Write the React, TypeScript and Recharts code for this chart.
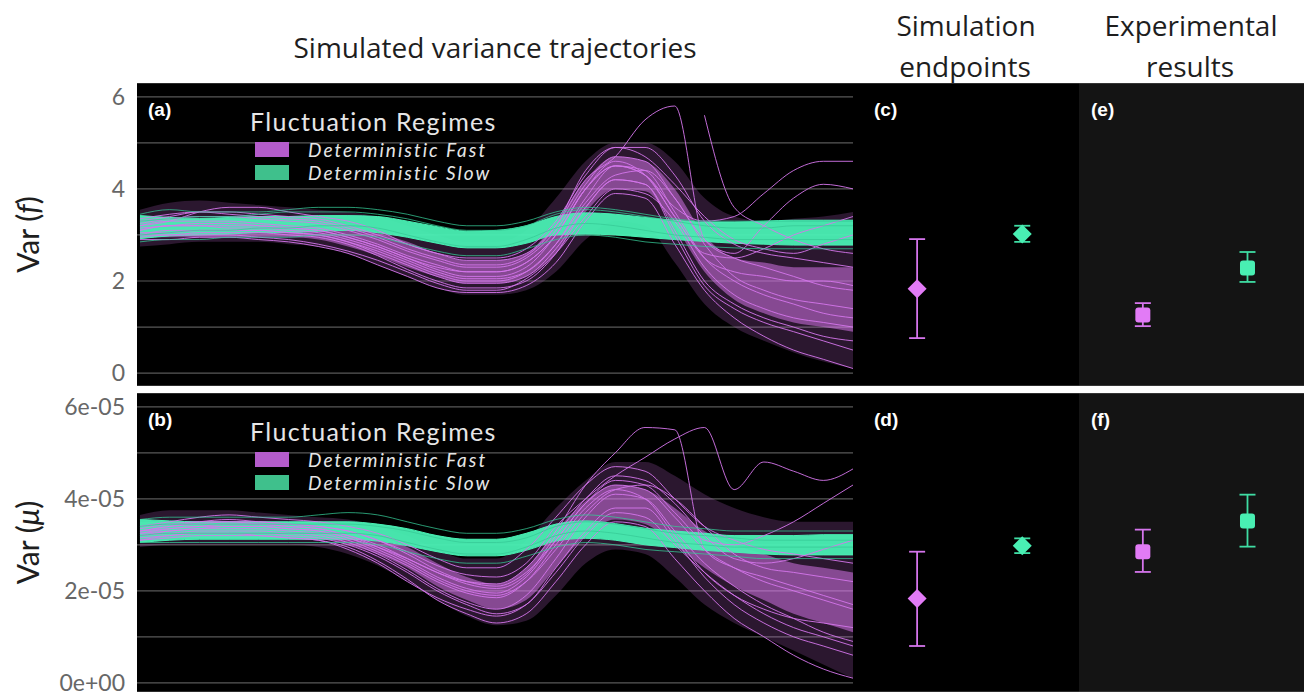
import React from 'react';
import { ComposedChart, Line, Area, Scatter, ErrorBar, XAxis, YAxis, CartesianGrid } from 'recharts';

const FONT = 'Lato, "Open Sans", sans-serif';
const TEXT_FONT = '"Open Sans", Lato, sans-serif';
const FAST = '#d575ec';
const FAST_CORE = '#e27bf6';
const SLOW = '#49efb3';
const GRID = '#585858';

// time steps of the simulated trajectories
const TIME = [0, 1, 2, 3, 4, 5, 6, 7, 8, 9, 10, 11, 12, 13, 14, 15, 16, 17, 18, 19, 20, 21, 22, 23, 24];
const Y_TICKS = [0, 1, 2, 3, 4, 5, 6];

// ---- panel (a): Var(f) ----
const A_SLOW_LO = [2.92, 2.98, 3.0, 3.02, 3.05, 3.05, 3.08, 3.1, 3.05, 2.95, 2.82, 2.72, 2.72, 2.82, 3.0, 3.02, 3.0, 2.95, 2.9, 2.86, 2.82, 2.8, 2.78, 2.78, 2.78];
const A_SLOW_HI = [3.42, 3.38, 3.36, 3.38, 3.4, 3.4, 3.42, 3.42, 3.4, 3.3, 3.18, 3.08, 3.1, 3.2, 3.4, 3.48, 3.45, 3.38, 3.32, 3.28, 3.28, 3.3, 3.32, 3.32, 3.32];
const A_FAST_ENV_LO = [2.75, 2.8, 2.85, 2.85, 2.85, 2.8, 2.75, 2.6, 2.35, 2.1, 1.85, 1.7, 1.7, 1.8, 2.2, 2.9, 3.3, 3.2, 2.4, 1.5, 1.0, 0.7, 0.45, 0.25, 0.1];
const A_FAST_ENV_HI = [3.55, 3.7, 3.75, 3.7, 3.65, 3.6, 3.55, 3.5, 3.4, 3.2, 3.0, 2.85, 2.85, 3.1, 3.8, 4.6, 5.0, 5.0, 4.6, 3.8, 3.4, 3.3, 3.35, 3.4, 3.5];
const A_FAST_CORE_LO = [2.95, 2.95, 2.95, 2.95, 2.95, 2.95, 2.9, 2.75, 2.55, 2.3, 2.1, 1.95, 1.95, 2.1, 2.6, 3.5, 4.0, 3.95, 3.2, 2.2, 1.6, 1.3, 1.1, 1.0, 0.9];
const A_FAST_CORE_HI = [3.35, 3.35, 3.35, 3.35, 3.35, 3.35, 3.3, 3.2, 3.05, 2.85, 2.6, 2.45, 2.45, 2.6, 3.3, 4.2, 4.7, 4.6, 4.0, 3.0, 2.5, 2.4, 2.3, 2.3, 2.3];

const A_FAST_LINES: (number | null)[][] = [
  [3.3, 3.4, 3.5, 3.5, 3.45, 3.4, 3.35, 3.2, 3.0, 2.8, 2.6, 2.5, 2.5, 2.7, 3.3, 4.3, 4.9, 4.9, 4.3, 3.3, 2.8, 2.6, 2.5, 2.4, 2.3],
  [3.1, 3.2, 3.2, 3.15, 3.15, 3.1, 3.05, 2.9, 2.7, 2.45, 2.2, 2.05, 2.05, 2.2, 2.8, 3.8, 4.5, 4.4, 3.5, 2.5, 2.0, 1.7, 1.5, 1.3, 1.2],
  [3.0, 3.0, 3.05, 3.05, 3.05, 3.0, 2.95, 2.8, 2.55, 2.25, 2.0, 1.85, 1.85, 2.0, 2.6, 3.6, 4.2, 4.1, 3.0, 1.9, 1.4, 1.1, 0.9, 0.7, 0.5],
  [3.2, 3.3, 3.3, 3.3, 3.25, 3.2, 3.15, 3.0, 2.8, 2.55, 2.35, 2.2, 2.2, 2.4, 3.0, 4.0, 4.6, 4.3, 3.4, 2.5, 2.2, 2.1, 2.0, 2.0, 1.9],
  [3.2, 3.3, 3.5, 3.6, 3.6, 3.5, 3.4, 3.3, 3.1, 2.8, 2.6, 2.45, 2.45, 2.6, 3.2, 4.2, 4.7, 5.5, 5.8, 2.9, 2.5, 2.3, 2.1, 1.9, 1.8],
  [2.9, 2.9, 2.95, 2.95, 2.9, 2.85, 2.75, 2.6, 2.35, 2.1, 1.85, 1.75, 1.75, 1.9, 2.4, 3.3, 3.9, 3.8, 2.8, 1.8, 1.2, 0.8, 0.5, 0.3, 0.1],
  [3.1, 3.2, 3.2, 3.2, 3.2, 3.15, 3.1, 2.95, 2.75, 2.5, 2.3, 2.2, 2.2, 2.4, 3.0, 4.0, 4.5, 4.3, 3.6, 3.3, 3.4, 3.9, 4.4, 4.6, 4.6],
  [3.0, 3.1, 3.1, 3.1, 3.1, 3.05, 3.0, 2.85, 2.65, 2.4, 2.15, 2.0, 2.0, 2.2, 2.8, 3.7, 4.3, 4.4, 3.8, 2.8, 2.1, 1.8, 1.6, 1.5, 1.4],
  [3.15, 3.2, 3.25, 3.25, 3.2, 3.15, 3.1, 2.95, 2.75, 2.5, 2.25, 2.1, 2.1, 2.3, 3.0, 4.0, 4.5, 4.3, 3.4, 2.6, 2.5, 2.7, 3.0, 3.2, 3.4],
  [3.05, 3.05, 3.1, 3.1, 3.1, 3.05, 3.0, 2.85, 2.6, 2.35, 2.1, 1.95, 1.95, 2.1, 2.7, 3.6, 4.2, 4.1, 3.1, 2.0, 1.5, 1.2, 1.0, 0.8, 0.7],
  [null, null, null, null, null, null, null, null, null, null, null, null, null, null, null, null, null, null, null, 5.6, 3.6, 3.2, 2.9, 2.7, 2.6],
  [3.25, 3.35, 3.4, 3.4, 3.35, 3.3, 3.25, 3.1, 2.9, 2.65, 2.45, 2.3, 2.3, 2.5, 3.1, 4.1, 4.7, 4.6, 3.8, 2.9, 2.6, 3.2, 3.8, 4.1, 4.0],
  [2.95, 3.0, 3.0, 3.0, 2.95, 2.9, 2.8, 2.65, 2.45, 2.2, 1.95, 1.8, 1.8, 2.05, 2.6, 3.4, 4.0, 3.9, 3.3, 2.3, 1.7, 1.4, 1.2, 1.1, 1.0],
  [3.35, 3.45, 3.5, 3.45, 3.4, 3.35, 3.3, 3.15, 2.95, 2.7, 2.5, 2.35, 2.35, 2.55, 3.2, 4.4, 4.9, 4.7, 4.1, 3.4, 2.9, 2.7, 2.6, 2.8, 3.0],
];
const A_SLOW_LINES: (number | null)[][] = [
  [3.45, 3.55, 3.5, 3.5, 3.5, 3.55, 3.6, 3.6, 3.55, 3.45, 3.3, 3.2, 3.2, 3.3, 3.5, 3.6, 3.55, 3.45, 3.35, 3.3, 3.3, 3.3, 3.3, 3.3, 3.3],
  [2.85, 2.9, 2.9, 2.95, 2.95, 2.95, 3.0, 3.0, 2.95, 2.8, 2.65, 2.55, 2.55, 2.7, 2.9, 3.0, 2.95, 2.85, 2.8, 2.75, 2.72, 2.7, 2.7, 2.7, 2.7],
  [3.3, 3.35, 3.4, 3.4, 3.45, 3.5, 3.5, 3.5, 3.45, 3.35, 3.2, 3.1, 3.1, 3.2, 3.45, 3.55, 3.5, 3.4, 3.3, 3.2, 3.15, 3.15, 3.2, 3.2, 3.2],
  [3.0, 3.05, 3.1, 3.1, 3.15, 3.15, 3.2, 3.2, 3.15, 3.0, 2.85, 2.75, 2.75, 2.9, 3.15, 3.25, 3.2, 3.1, 3.0, 2.95, 2.9, 2.9, 2.9, 2.9, 2.9],
];

// ---- panel (b): Var(mu), in units of 1e-05 ----
const B_SLOW_LO = [3.05, 3.1, 3.12, 3.12, 3.12, 3.12, 3.12, 3.12, 3.08, 2.98, 2.85, 2.76, 2.76, 2.88, 3.08, 3.14, 3.1, 3.0, 2.94, 2.88, 2.84, 2.8, 2.78, 2.78, 2.78];
const B_SLOW_HI = [3.55, 3.52, 3.5, 3.5, 3.5, 3.5, 3.5, 3.5, 3.45, 3.35, 3.2, 3.12, 3.12, 3.25, 3.45, 3.52, 3.46, 3.36, 3.3, 3.25, 3.2, 3.2, 3.2, 3.22, 3.22];
const B_FAST_ENV_LO = [2.95, 3.0, 3.0, 3.0, 3.0, 3.0, 2.95, 2.8, 2.55, 2.2, 1.8, 1.45, 1.25, 1.35, 1.9, 2.6, 2.9, 2.8, 2.3, 1.7, 1.3, 1.0, 0.7, 0.4, 0.1];
const B_FAST_ENV_HI = [3.65, 3.75, 3.75, 3.75, 3.7, 3.65, 3.6, 3.55, 3.4, 3.2, 2.9, 2.7, 2.7, 3.1, 3.8, 4.4, 4.8, 4.8, 4.5, 4.1, 3.8, 3.6, 3.5, 3.5, 3.5];
const B_FAST_CORE_LO = [3.15, 3.15, 3.15, 3.15, 3.15, 3.15, 3.15, 3.0, 2.8, 2.5, 2.1, 1.8, 1.6, 1.8, 2.5, 3.2, 3.55, 3.45, 3.0, 2.5, 2.1, 1.8, 1.5, 1.3, 1.1];
const B_FAST_CORE_HI = [3.5, 3.5, 3.5, 3.5, 3.5, 3.5, 3.5, 3.4, 3.2, 2.95, 2.6, 2.3, 2.15, 2.5, 3.3, 3.95, 4.3, 4.2, 3.8, 3.3, 3.0, 2.8, 2.6, 2.5, 2.4];

const B_FAST_LINES: (number | null)[][] = [
  [3.3, 3.4, 3.45, 3.5, 3.5, 3.45, 3.4, 3.3, 3.1, 2.8, 2.45, 2.2, 2.1, 2.4, 3.1, 3.9, 4.3, 4.2, 3.6, 2.9, 2.5, 2.2, 2.0, 1.8, 1.6],
  [3.2, 3.25, 3.3, 3.3, 3.3, 3.25, 3.2, 3.05, 2.8, 2.45, 2.05, 1.75, 1.6, 1.9, 2.7, 3.6, 4.1, 4.0, 3.3, 2.6, 2.1, 1.7, 1.4, 1.1, 0.9],
  [3.4, 3.5, 3.6, 3.65, 3.6, 3.55, 3.5, 3.4, 3.25, 3.0, 2.7, 2.5, 2.5, 2.9, 3.6, 4.3, 4.7, 4.6, 4.0, 3.4, 3.1, 2.9, 2.8, 2.7, 2.6],
  [3.3, 3.4, 3.5, 3.55, 3.5, 3.45, 3.4, 3.3, 3.1, 2.85, 2.55, 2.35, 2.3, 2.6, 3.4, 4.0, 4.5, 4.9, 5.3, 5.55, 4.2, 4.8, 4.6, 4.4, 4.65],
  [3.25, 3.35, 3.4, 3.45, 3.45, 3.4, 3.35, 3.2, 3.0, 2.7, 2.4, 2.2, 2.15, 2.5, 3.3, 4.3, 5.0, 5.55, 5.5, 2.9, 2.5, 2.3, 2.1, 1.9, 1.7],
  [3.1, 3.15, 3.2, 3.2, 3.2, 3.15, 3.1, 2.95, 2.65, 2.25, 1.8, 1.5, 1.3, 1.5, 2.2, 3.0, 3.5, 3.4, 2.7, 2.0, 1.4, 1.0, 0.6, 0.3, 0.1],
  [3.25, 3.3, 3.35, 3.35, 3.35, 3.3, 3.25, 3.1, 2.85, 2.55, 2.2, 1.95, 1.85, 2.2, 3.0, 3.8, 4.2, 4.0, 3.2, 2.4, 1.9, 1.6, 1.4, 1.3, 1.2],
  [3.35, 3.45, 3.5, 3.5, 3.45, 3.4, 3.35, 3.2, 2.95, 2.65, 2.3, 2.05, 1.95, 2.3, 3.1, 3.9, 4.4, 4.3, 3.7, 3.1, 3.0, 3.2, 3.5, 3.9, 4.3],
  [3.15, 3.2, 3.25, 3.25, 3.25, 3.2, 3.15, 3.0, 2.75, 2.4, 2.0, 1.7, 1.5, 1.7, 2.5, 3.3, 3.8, 3.8, 3.1, 2.3, 1.7, 1.3, 1.0, 0.8, 0.6],
  [3.2, 3.3, 3.35, 3.4, 3.4, 3.35, 3.3, 3.15, 2.9, 2.6, 2.25, 2.0, 1.9, 2.2, 2.9, 3.7, 4.2, 4.3, 4.0, 3.4, 2.8, 2.5, 2.4, 2.3, 2.2],
  [3.1, 3.2, 3.25, 3.25, 3.2, 3.15, 3.1, 2.9, 2.6, 2.2, 1.85, 1.6, 1.45, 1.7, 2.4, 3.2, 3.7, 3.6, 3.0, 2.4, 1.9, 1.5, 1.2, 1.0, 0.8],
  [3.3, 3.35, 3.4, 3.4, 3.4, 3.35, 3.3, 3.15, 2.95, 2.7, 2.4, 2.15, 2.05, 2.35, 3.2, 4.0, 4.5, 4.4, 3.9, 3.2, 2.7, 2.6, 2.7, 2.9, 3.1],
];
const B_SLOW_LINES: (number | null)[][] = [
  [3.55, 3.6, 3.6, 3.6, 3.6, 3.6, 3.65, 3.7, 3.65, 3.5, 3.35, 3.25, 3.25, 3.35, 3.55, 3.65, 3.6, 3.5, 3.4, 3.35, 3.3, 3.3, 3.3, 3.3, 3.3],
  [3.05, 3.05, 3.05, 3.05, 3.05, 3.05, 3.05, 3.05, 3.0, 2.85, 2.7, 2.6, 2.6, 2.75, 2.95, 3.05, 3.0, 2.9, 2.85, 2.8, 2.75, 2.7, 2.7, 2.7, 2.7],
  [3.4, 3.45, 3.45, 3.45, 3.45, 3.45, 3.45, 3.45, 3.4, 3.3, 3.15, 3.05, 3.05, 3.15, 3.4, 3.5, 3.45, 3.35, 3.25, 3.2, 3.15, 3.1, 3.1, 3.1, 3.1],
  [3.2, 3.25, 3.25, 3.25, 3.25, 3.25, 3.25, 3.25, 3.2, 3.05, 2.9, 2.8, 2.8, 2.95, 3.2, 3.3, 3.25, 3.15, 3.05, 3.0, 2.95, 2.95, 2.95, 2.95, 2.95],
];

// ---- endpoint panels: value and [lower, upper] error ----
const C_FAST = [{ x: 1, y: 1.83, err: [1.07, 1.08] }];
const C_SLOW = [{ x: 2, y: 3.02, err: [0.17, 0.18] }];
const E_FAST = [{ x: 1, y: 1.26, err: [0.24, 0.26] }];
const E_SLOW = [{ x: 2, y: 2.28, err: [0.3, 0.35] }];
const D_FAST = [{ x: 1, y: 1.83, err: [1.03, 1.02] }];
const D_SLOW = [{ x: 2, y: 2.98, err: [0.16, 0.16] }];
const F_FAST = [{ x: 1, y: 2.85, err: [0.44, 0.48] }];
const F_SLOW = [{ x: 2, y: 3.52, err: [0.56, 0.57] }];

const LEGEND = [
  { label: 'Deterministic Fast', color: '#b45ccb' },
  { label: 'Deterministic Slow', color: '#3fc08c' },
];

function buildRows(
  fastEnv: [number[], number[]],
  fastCore: [number[], number[]],
  slow: [number[], number[]],
  fastLines: (number | null)[][],
  slowLines: (number | null)[][],
) {
  return TIME.map((t, i) => {
    const row: Record<string, any> = {
      t,
      fastEnv: [fastEnv[0][i], fastEnv[1][i]],
      fastCore: [fastCore[0][i], fastCore[1][i]],
      slowCore: [slow[0][i], slow[1][i]],
    };
    fastLines.forEach((l, k) => (row['f' + k] = l[i]));
    slowLines.forEach((l, k) => (row['s' + k] = l[i]));
    return row;
  });
}

const ROWS_A = buildRows([A_FAST_ENV_LO, A_FAST_ENV_HI], [A_FAST_CORE_LO, A_FAST_CORE_HI], [A_SLOW_LO, A_SLOW_HI], A_FAST_LINES, A_SLOW_LINES);
const ROWS_B = buildRows([B_FAST_ENV_LO, B_FAST_ENV_HI], [B_FAST_CORE_LO, B_FAST_CORE_HI], [B_SLOW_LO, B_SLOW_HI], B_FAST_LINES, B_SLOW_LINES);

const fmtA = (v: number) => (v % 2 === 0 ? String(v) : '');
const fmtB = (v: number) => (v % 2 === 0 ? (v === 0 ? '0e+00' : `${v}e-05`) : '');

function AxisTitle(props: any) {
  const { viewBox, sym } = props;
  const cx = 27;
  const cy = viewBox.y + viewBox.height / 2;
  return (
    <text x={cx} y={cy} transform={`rotate(-90 ${cx} ${cy})`} textAnchor="middle" dominantBaseline="central"
      fontFamily={FONT} fontSize={30} fill="#1e1e1e">
      Var (<tspan fontStyle="italic">{sym}</tspan>)
    </text>
  );
}

function TrajectoryPanel(props: { rows: any[]; nFast: number; nSlow: number; height: number; domain: [number, number]; fmt: (v: number) => string; sym: string }) {
  return (
    <ComposedChart width={853} height={props.height} data={props.rows} margin={{ top: 0, right: 0, bottom: 0, left: 0 }}>
      <CartesianGrid vertical={false} stroke={GRID} strokeWidth={1.2} fill="#000" />
      <XAxis dataKey="t" type="number" domain={[-0.1, 24]} hide />
      <YAxis type="number" domain={props.domain} allowDataOverflow ticks={Y_TICKS} tickFormatter={props.fmt} width={137}
        axisLine={false} tickLine={false} tickSize={0} tickMargin={12} interval={0}
        tick={{ fill: '#676767', fontSize: 23, fontFamily: FONT }}
        label={<AxisTitle sym={props.sym} />} />
      <Area dataKey="fastEnv" type="monotone" stroke="none" fill={FAST} fillOpacity={0.2} isAnimationActive={false} />
      <Area dataKey="fastCore" type="monotone" stroke="none" fill={FAST_CORE} fillOpacity={0.5} isAnimationActive={false} />
      {Array.from({ length: props.nFast }, (_, k) => (
        <Line key={'f' + k} dataKey={'f' + k} type="monotone" stroke={FAST} strokeOpacity={0.9} strokeWidth={1} dot={false} isAnimationActive={false} />
      ))}
      {Array.from({ length: props.nSlow }, (_, k) => (
        <Line key={'s' + k} dataKey={'s' + k} type="monotone" stroke="#36c995" strokeOpacity={0.75} strokeWidth={1} dot={false} isAnimationActive={false} />
      ))}
      <Area dataKey="slowCore" type="monotone" stroke={SLOW} strokeWidth={1} fill={SLOW} fillOpacity={0.95} isAnimationActive={false} />
    </ComposedChart>
  );
}

const Diamond = (color: string) => (p: any) => (
  <path d={`M${p.cx},${p.cy - 9.5} L${p.cx + 9.5},${p.cy} L${p.cx},${p.cy + 9.5} L${p.cx - 9.5},${p.cy} Z`} fill={color} />
);
const Square = (color: string) => (p: any) => (
  <rect x={p.cx - 7.5} y={p.cy - 7.5} width={15} height={15} rx={3} fill={color} />
);

function EndpointPanel(props: { width: number; height: number; domain: [number, number]; bg: string; fast: any[]; slow: any[]; square?: boolean }) {
  const shape = props.square ? Square : Diamond;
  return (
    <ComposedChart width={props.width} height={props.height} margin={{ top: 0, right: 0, bottom: 0, left: 0 }}>
      <CartesianGrid vertical={false} stroke={GRID} strokeWidth={1.2} fill={props.bg} />
      <XAxis dataKey="x" type="number" domain={[0.39, 2.54]} hide />
      <YAxis type="number" domain={props.domain} allowDataOverflow ticks={Y_TICKS} width={0} tick={false} axisLine={false} tickLine={false} />
      <Scatter data={props.fast} dataKey="y" shape={shape(FAST_CORE)} isAnimationActive={false}>
        <ErrorBar dataKey="err" direction="y" width={8} stroke={FAST} strokeWidth={1.8} />
      </Scatter>
      <Scatter data={props.slow} dataKey="y" shape={shape(SLOW)} isAnimationActive={false}>
        <ErrorBar dataKey="err" direction="y" width={8} stroke="#3fdca3" strokeWidth={1.8} />
      </Scatter>
    </ComposedChart>
  );
}

// legend block: title centred ~15px below `top`, rows 23px apart
function RegimeLegend(props: { top: number }) {
  return (
    <div style={{ position: 'absolute', left: 250, top: props.top, fontFamily: FONT, color: '#e6e6e6' }}>
      <div style={{ fontSize: 25, lineHeight: '30px', height: 30, marginBottom: 3, whiteSpace: 'nowrap', letterSpacing: 1.3 }}>Fluctuation Regimes</div>
      {LEGEND.map((l) => (
        <div key={l.label} style={{ position: 'relative', height: 23 }}>
          <div style={{ position: 'absolute', left: 5, top: 3, width: 34, height: 15, background: l.color }} />
          <div style={{ position: 'absolute', left: 58, top: 0, height: 22, whiteSpace: 'nowrap',
            fontSize: 19, fontStyle: 'italic', lineHeight: '22px', letterSpacing: 2 }}>{l.label}</div>
        </div>
      ))}
    </div>
  );
}

const abs = (left: number, top: number): React.CSSProperties => ({ position: 'absolute', left, top });

function Heading(props: { x: number; y: number; text: string }) {
  return (
    <div style={{ position: 'absolute', left: props.x, top: props.y, transform: 'translate(-50%, -50%)', whiteSpace: 'nowrap',
      fontFamily: TEXT_FONT, fontSize: 28, color: '#1e1e1e' }}>{props.text}</div>
  );
}

function PanelTag(props: { x: number; y: number; text: string }) {
  return (
    <div style={{ position: 'absolute', left: props.x, top: props.y, transform: 'translateY(-50%)',
      fontFamily: '"Liberation Sans", Arial, sans-serif', fontWeight: 700, fontSize: 19, color: '#fff' }}>{props.text}</div>
  );
}

export default function App() {
  const topDomain: [number, number] = [-0.28, 6.3];
  const botDomain: [number, number] = [-0.2, 6.3];
  return (
    <div style={{ position: 'relative', width: 1304, height: 692, overflow: 'hidden', background: '#fff' }}>
      <style>{'body{margin:0}'}</style>
      <Heading x={495} y={47} text="Simulated variance trajectories" />
      <Heading x={966} y={25} text="Simulation" />
      <Heading x={965} y={66} text="endpoints" />
      <Heading x={1191} y={25} text="Experimental" />
      <Heading x={1190} y={66} text="results" />

      <div style={abs(0, 83)}>
        <TrajectoryPanel rows={ROWS_A} nFast={A_FAST_LINES.length} nSlow={A_SLOW_LINES.length} height={303} domain={topDomain} fmt={fmtA} sym="f" />
      </div>
      <div style={abs(853, 83)}>
        <EndpointPanel width={226} height={303} domain={topDomain} bg="#000" fast={C_FAST} slow={C_SLOW} />
      </div>
      <div style={abs(1079, 83)}>
        <EndpointPanel width={225} height={303} domain={topDomain} bg="#141414" fast={E_FAST} slow={E_SLOW} square />
      </div>

      <div style={abs(0, 393)}>
        <TrajectoryPanel rows={ROWS_B} nFast={B_FAST_LINES.length} nSlow={B_SLOW_LINES.length} height={299} domain={botDomain} fmt={fmtB} sym="μ" />
      </div>
      <div style={abs(853, 393)}>
        <EndpointPanel width={226} height={299} domain={botDomain} bg="#000" fast={D_FAST} slow={D_SLOW} />
      </div>
      <div style={abs(1079, 393)}>
        <EndpointPanel width={225} height={299} domain={botDomain} bg="#141414" fast={F_FAST} slow={F_SLOW} square />
      </div>

      <RegimeLegend top={106} />
      <RegimeLegend top={416} />
      <PanelTag x={148} y={110} text="(a)" />
      <PanelTag x={148} y={420} text="(b)" />
      <PanelTag x={874} y={110} text="(c)" />
      <PanelTag x={874} y={420} text="(d)" />
      <PanelTag x={1091} y={110} text="(e)" />
      <PanelTag x={1091} y={420} text="(f)" />
    </div>
  );
}
